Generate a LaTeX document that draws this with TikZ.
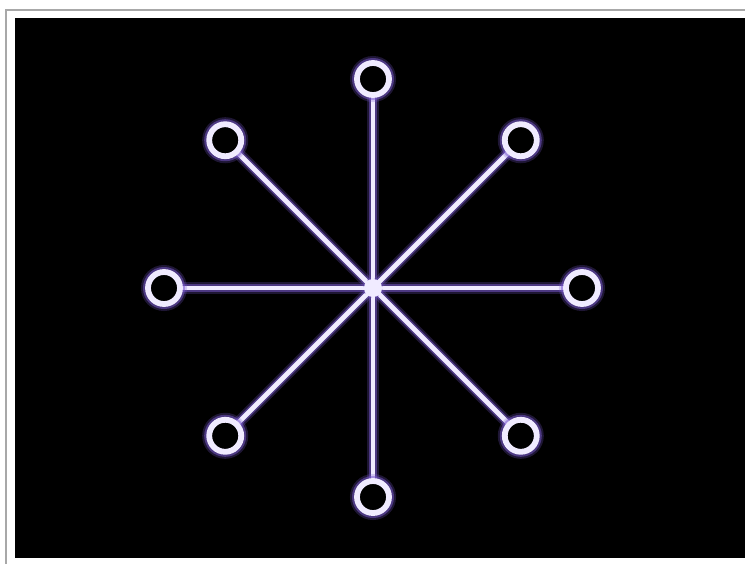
\documentclass[tikz,border=0pt]{standalone}
\usepackage{tikz}
\usetikzlibrary{positioning, calc}
\definecolor{glowpurple}{HTML}{7B5BD0}
\definecolor{spokewhite}{HTML}{F0EBFF}
\definecolor{framegray}{HTML}{A8A8A8}

\begin{document}
\begin{tikzpicture}[
    x=0.5pt, y=-0.5pt,
    spoke/.style={draw=spokewhite, line width=2.4pt, line cap=round,
        preaction={draw=glowpurple, line width=6pt, opacity=0.25},
        preaction={draw=glowpurple, line width=4pt, opacity=0.5}},
    ring/.style={circle, draw=spokewhite, fill=black, line width=2.9pt, minimum size=16pt, inner sep=0pt,
        preaction={draw=glowpurple, line width=7pt, opacity=0.25},
        preaction={draw=glowpurple, line width=5pt, opacity=0.5}}
]
\useasboundingbox (0,0) rectangle (745,564);
\fill[white] (0,0) rectangle (745,564);
\draw[framegray, line width=1pt] (5.5,564) -- (5.5,9.5) -- (745,9.5);
\fill[black] (15,18) rectangle (745,558);

\coordinate (hub) at (373,288);
\foreach \a in {0,45,...,315}
    \draw[spoke] (hub) -- ($(hub)+(\a:192)$);
\foreach \a in {0,45,...,315}
    \node[ring] (end\a) at ($(hub)+(\a:209)$) {};
\fill[spokewhite] (hub) circle (4.5pt);
\end{tikzpicture}
\end{document}
